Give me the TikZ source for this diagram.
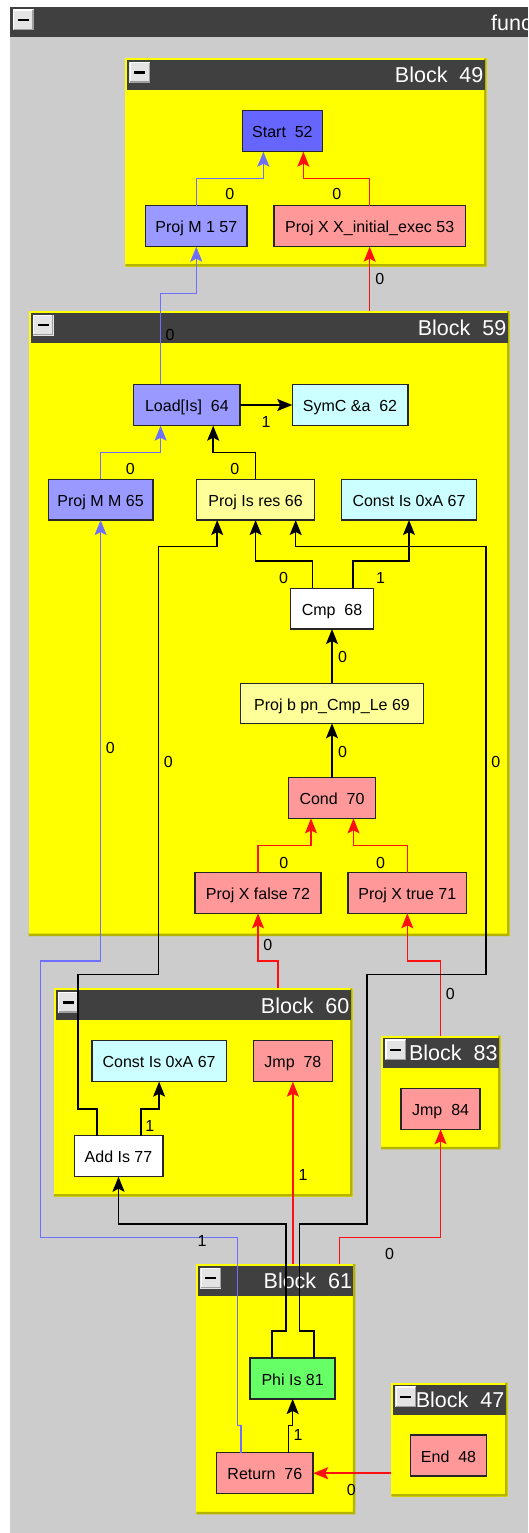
\documentclass[tikz,border=0pt]{standalone}
\usepackage{fontspec}
\setmainfont{Liberation Sans}
\usetikzlibrary{arrows.meta}
\definecolor{cGrey}{HTML}{CCCCCC}
\definecolor{cBar}{HTML}{404040}
\definecolor{cYel}{HTML}{FFFF00}
\definecolor{cOlv}{HTML}{B4B400}
\definecolor{cBtn}{HTML}{E4E4E4}
\definecolor{cBtnS}{HTML}{A0A0A0}
\definecolor{cBlue}{HTML}{6E6EFF}
\definecolor{cRedE}{HTML}{FF1010}
\definecolor{cStart}{HTML}{6666FF}
\definecolor{cProjM}{HTML}{9999FF}
\definecolor{cPink}{HTML}{FF9999}
\definecolor{cCyan}{HTML}{CCFFFF}
\definecolor{cLY}{HTML}{FFFF99}
\definecolor{cGreen}{HTML}{66FF66}
\newcommand{\irnfont}{\fontsize{16}{19}\selectfont}
\newcommand{\irtfont}{\fontsize{21.5}{25}\selectfont}
\newcommand{\mbtn}[2]{%
  \fill[cBtn] ({#1},{#2}) rectangle ({#1+21},{#2+21});
  \draw[white, line width=1.2pt] ({#1+0.8},{#2+20.2}) -- ({#1+0.8},{#2+0.8}) -- ({#1+20.2},{#2+0.8});
  \draw[cBtnS, line width=1.2pt] ({#1+0.8},{#2+20.2}) -- ({#1+20.2},{#2+20.2}) -- ({#1+20.2},{#2+0.8});
  \fill[black] ({#1+5},{#2+9.3}) rectangle ({#1+16},{#2+11.9});
}
\newcommand{\irgblock}[6]{%
  \node[blkn, minimum width={(#4)-(#2)}, minimum height={(#5)-(#3)}, anchor=north west] (#1) at (#2,#3) {};
  \fill[cOlv] (#4,#3) -- (#4,#5) -- (#2,#5) -- ({#2},{#5-2.5}) -- ({#4-2.5},{#5-2.5}) -- ({#4-2.5},{#3}) -- cycle;
  \fill[cBar] ({#2+2},{#3+2}) rectangle ({#4-2},{#3+32});
  \mbtn{#2+4}{#3+3.5}
  \node[ttl, anchor=base east] (#1t) at ({#4-3},{#3+24.7}) {#6};
}
\begin{document}
\begin{tikzpicture}[x=1pt,y=-1pt,
  blkn/.style={fill=cYel, inner sep=0pt, outer sep=0pt},
  ttl/.style={text=white, font=\irtfont, inner sep=0pt},
  irn/.style={draw=black!85, line width=1.5pt, inner sep=0pt, outer sep=0pt, font=\irnfont, text height=13.5pt, text depth=0pt},
  lbl/.style={inner sep=0pt, font=\irnfont, text height=11.5pt, text depth=0pt},
  tip/.style={-{Stealth[length=15pt,width=12pt,inset=3pt]}},
  cedge/.style={draw=black, line width=1.5pt, tip},
  bedge/.style={draw=cBlue, line width=1.5pt, tip},
  redge/.style={draw=cRedE, line width=1.5pt, tip}]
\useasboundingbox (0,0) rectangle (528,1533);
\clip (0,0) rectangle (528,1533);
\fill[white] (0,0) rectangle (528,1533);
\fill[cGrey] (10,36.7) rectangle (528,1533);
\fill[cBar] (10,7) rectangle (528,36.7);
\mbtn{12.8}{9.3}
\node[ttl, anchor=base west] (fn) at (491,30.7) {func};

% blocks
\irgblock{b49}{125.3}{58.3}{486.6}{266.7}{Block~~49}
\irgblock{b59}{28.6}{311}{509.5}{936}{Block~~59}
\irgblock{b60}{53.9}{988.3}{352.6}{1196.7}{Block~~60}
\irgblock{b83}{381.2}{1035.7}{500.7}{1149.3}{Block~~83}
\irgblock{b61}{196.3}{1264}{355.3}{1514.3}{Block~~61}
\irgblock{b47}{391.3}{1382.7}{507.5}{1496.7}{Block~~47}

% nodes
\node[irn, fill=cStart, minimum width=80, minimum height=41.4] (start) at (282.4,131) {Start~~52};
\node[irn, fill=cProjM, minimum width=101.7, minimum height=41] (pm1) at (196.3,226.2) {Proj M 1 57};
\node[irn, fill=cPink, minimum width=191.3, minimum height=41] (px53) at (369.7,226.2) {Proj X X\_initial\_exec 53};
\node[irn, fill=cProjM, minimum width=106.4, minimum height=41.4] (load) at (186.9,405) {Load[Is]~~64};
\node[irn, fill=cCyan, minimum width=115.5, minimum height=41.4] (symc) at (350,405) {SymC \&a~~62};
\node[irn, fill=cProjM, minimum width=104.4, minimum height=40.7] (pmm) at (100.6,499.7) {Proj M M 65};
\node[irn, fill=cLY, minimum width=117.9, minimum height=40.7] (pis) at (255.6,499.7) {Proj Is res 66};
\node[irn, fill=cCyan, minimum width=134.7, minimum height=40.7] (c67) at (409,499.7) {Const Is 0xA 67};
\node[irn, fill=white, minimum width=83.2, minimum height=40.7] (cmp) at (332,608.7) {Cmp~~68};
\node[irn, fill=cLY, minimum width=182.8, minimum height=40] (pb) at (332,703.3) {Proj b pn\_Cmp\_Le 69};
\node[irn, fill=cPink, minimum width=86.9, minimum height=40.7] (cond) at (332,798) {Cond~~70};
\node[irn, fill=cPink, minimum width=126.3, minimum height=40.7] (pf72) at (258,893) {Proj X false 72};
\node[irn, fill=cPink, minimum width=118.6, minimum height=40.7] (pt71) at (407.3,893) {Proj X true 71};
\node[irn, fill=cCyan, minimum width=134.7, minimum height=41] (c67b) at (159.1,1061.2) {Const Is 0xA 67};
\node[irn, fill=cPink, minimum width=79.2, minimum height=41] (jmp78) at (292.9,1061.2) {Jmp~~78};
\node[irn, fill=white, minimum width=88.5, minimum height=41] (add) at (118.5,1156.2) {Add Is 77};
\node[irn, fill=cPink, minimum width=79.1, minimum height=41] (jmp84) at (440.6,1108.8) {Jmp~~84};
\node[irn, fill=cGreen, minimum width=84.9, minimum height=41] (phi) at (292.65,1378.5) {Phi Is 81};
\node[irn, fill=cPink, minimum width=96.7, minimum height=41] (ret) at (264.85,1473.2) {Return~~76};
\node[irn, fill=cPink, minimum width=76.1, minimum height=41] (end48) at (448.55,1455.5) {End~~48};

% edges
\draw[bedge] (pm1.north) -- ++(0,-27) -| ([xshift=-19pt]start.south);
\draw[redge] (px53.north) -- ++(0,-27) -| ([xshift=21pt]start.south);
\draw[redge] (b59.north -| px53.south) -- (px53.south);
\draw[bedge] ([xshift=-26.3pt]load.north) -- ++(0,-91) -| (pm1.south);
\draw[cedge] (load.east) -- (symc.west);
\draw[bedge] (pmm.north) -- ++(0,-27) -| ([xshift=-26.3pt]load.south);
\draw[cedge] (pis.north) -- ++(0,-27) -| ([xshift=26.3pt]load.south);
\draw[cedge] ([xshift=-19.5pt]cmp.north) -- ++(0,-27.6) -| (pis.south);
\draw[cedge] ([xshift=21pt]cmp.north) -- ++(0,-27.6) -| (c67.south);
\draw[cedge] (pb.north) -- (cmp.south);
\draw[cedge] (cond.north) -- (pb.south);
\draw[redge] (pf72.north) -- ++(0,-27) -| ([xshift=-21pt]cond.south);
\draw[redge] (pt71.north) -- ++(0,-27) -| ([xshift=21.5pt]cond.south);
\draw[redge] ([xshift=74.9pt]b60.north) -- ++(0,-27.3) -| (pf72.south);
\draw[redge] (b83.north -| jmp84.south) -- ++(0,-74.7) -| (pt71.south);
\draw[bedge] ([xshift=-23.75pt]ret.north) -- ++(0,-27) -- ++(-3.7,0) -- ++(0,-188) -- ++(-197,0) -- ++(0,-276.7) -| (pmm.south);
\draw[cedge] ([xshift=-21.4pt]add.north) -- ++(0,-26.7) -- ++(-18.9,0) -- ++(0,-134.7) -- ++(80.2,0) -- ++(0,-427.6) -| ([xshift=-38.4pt]pis.south);
\draw[cedge] ([xshift=22.3pt]add.north) -- ++(0,-26.7) -| (c67b.south);
\draw[cedge] ([xshift=-20.55pt]phi.north) -- ++(0,-27) -- ++(14.1,0) -- ++(0,-107) -| (add.south);
\draw[cedge] ([xshift=21.15pt]phi.north) -- ++(0,-27) -- ++(-14.1,0) -- ++(0,-107) -- ++(67.3,0) -- ++(0,-249.7) -- ++(118.9,0) -- ++(0,-427.6) -| ([xshift=40.1pt]pis.south);
\draw[redge] (b61.north -| jmp78.south) -- (jmp78.south);
\draw[redge] ([xshift=63.6pt]b61.north) -- ++(0,-26.3) -| (jmp84.south);
\draw[cedge] ([xshift=23.75pt]ret.north) -- ++(0,-27) -| (phi.south);
\draw[redge] (b47.west |- ret.east) -- (ret.east);

% labels
\node[lbl] (l1) at (229.7,194) {0};
\node[lbl] (l2) at (336.7,194) {0};
\node[lbl] (l3) at (379.8,279) {0};
\node[lbl] (l4) at (170,334.3) {0};
\node[lbl] (l5) at (266,421.7) {1};
\node[lbl] (l6) at (130.3,468.3) {0};
\node[lbl] (l7) at (234.7,468.3) {0};
\node[lbl] (l8) at (283.5,577.3) {0};
\node[lbl] (l9) at (380.5,577.3) {1};
\node[lbl] (l10) at (342.5,656.7) {0};
\node[lbl] (l11) at (342.5,751.7) {0};
\node[lbl] (l12) at (110.4,747.7) {0};
\node[lbl] (l13) at (168.4,761.7) {0};
\node[lbl] (l14) at (495.7,761.7) {0};
\node[lbl] (l15) at (283.9,862.3) {0};
\node[lbl] (l16) at (380.5,862.3) {0};
\node[lbl] (l17) at (267.7,944.3) {0};
\node[lbl] (l18) at (450.2,993.3) {0};
\node[lbl] (l19) at (149.8,1125.7) {1};
\node[lbl] (l20) at (303.1,1174.3) {1};
\node[lbl] (l21) at (202,1241) {1};
\node[lbl] (l22) at (389.6,1253.3) {0};
\node[lbl] (l23) at (298,1434.3) {1};
\node[lbl] (l24) at (351.2,1489.3) {0};
\end{tikzpicture}
\end{document}
